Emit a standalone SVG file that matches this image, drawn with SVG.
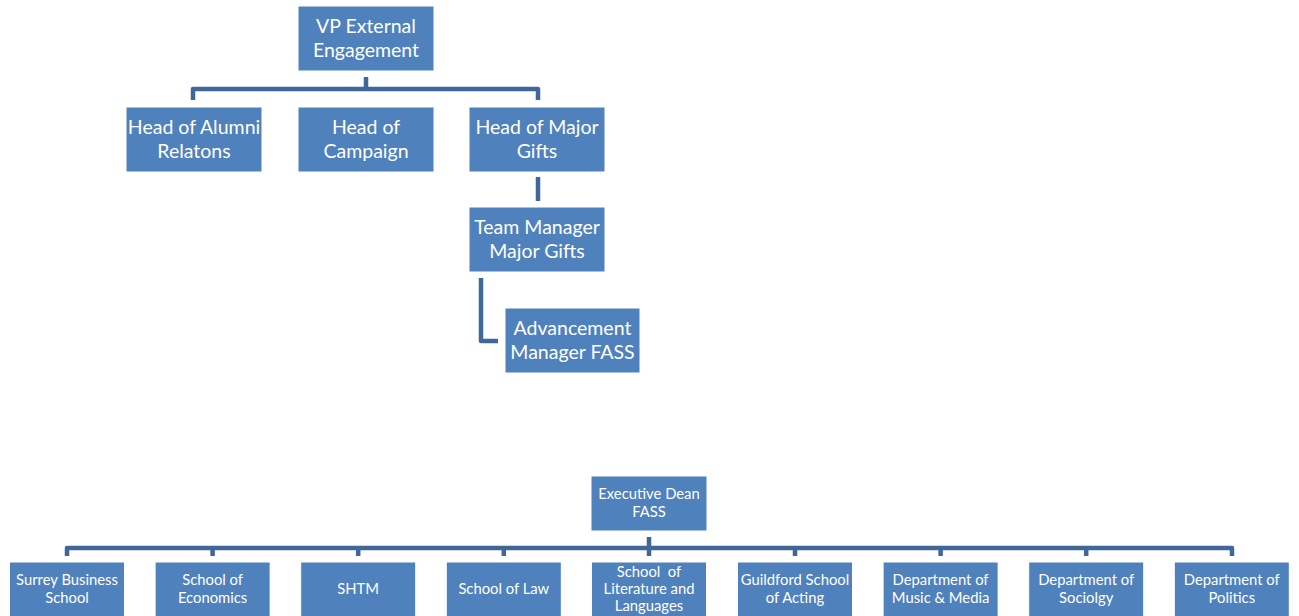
<svg xmlns="http://www.w3.org/2000/svg" width="1299" height="616" viewBox="0 0 1299 616">
<style>
.box{fill:#4F81BD;stroke:#ffffff;stroke-width:1}
.t{fill:#ffffff;font-family:Lato,"Liberation Sans",sans-serif;font-size:19.5px;text-anchor:middle}
.s{fill:#ffffff;font-family:Lato,"Liberation Sans",sans-serif;font-size:14.8px;text-anchor:middle;white-space:pre}
.c{fill:none;stroke:#3F6899;stroke-width:4.5;stroke-linejoin:round}
</style>
<rect width="1299" height="616" fill="#ffffff"/>
<g id="connectors">
<path class="c" d="M366 77V89M193 100V89H538V100"/>
<path class="c" d="M538 177V201"/>
<path class="c" d="M481 278V341H498"/>
<path class="c" d="M649 537V548M67 556V548H1232V556M212.6 548V556M358.2 548V556M503.8 548V556M649 548V556M795 548V556M940.6 548V556M1086.2 548V556"/>
</g>
<g id="vp"><rect class="box" x="298" y="6" width="136" height="65"/><text class="t" x="366" y="33">VP External</text><text class="t" x="366" y="57">Engagement</text></g>
<g id="alumni"><rect class="box" x="126" y="107" width="136" height="65"/><text class="t" x="194" y="134">Head of Alumni</text><text class="t" x="194" y="158">Relatons</text></g>
<g id="campaign"><rect class="box" x="298" y="107" width="136" height="65"/><text class="t" x="366" y="134">Head of</text><text class="t" x="366" y="158">Campaign</text></g>
<g id="majorgifts"><rect class="box" x="469" y="107" width="136" height="65"/><text class="t" x="537" y="134">Head of Major</text><text class="t" x="537" y="158">Gifts</text></g>
<g id="teammanager"><rect class="box" x="469" y="207" width="136" height="65"/><text class="t" x="537" y="234">Team Manager</text><text class="t" x="537" y="258">Major Gifts</text></g>
<g id="advancement"><rect class="box" x="505" y="308" width="135" height="65"/><text class="t" x="572.5" y="335">Advancement</text><text class="t" x="572.5" y="359">Manager FASS</text></g>
<g id="execdean"><rect class="box" x="591" y="476" width="116" height="55"/><text class="s" x="649" y="499">Executive Dean</text><text class="s" x="649" y="517">FASS</text></g>
<g id="surrey"><rect class="box" x="9.5" y="562" width="115" height="56"/><text class="s" x="67" y="585">Surrey Business</text><text class="s" x="67" y="603">School</text></g>
<g id="economics"><rect class="box" x="155.1" y="562" width="115" height="56"/><text class="s" x="212.6" y="585">School of</text><text class="s" x="212.6" y="603">Economics</text></g>
<g id="shtm"><rect class="box" x="300.7" y="562" width="115" height="56"/><text class="s" x="358.2" y="594">SHTM</text></g>
<g id="law"><rect class="box" x="446.3" y="562" width="115" height="56"/><text class="s" x="503.8" y="594">School of Law</text></g>
<g id="literature"><rect class="box" x="591.5" y="562" width="115" height="56"/><text class="s" x="649" y="577">School  of</text><text class="s" x="649" y="594">Literature and</text><text class="s" x="649" y="611">Languages</text></g>
<g id="guildford"><rect class="box" x="737.5" y="562" width="115" height="56"/><text class="s" x="795" y="585">Guildford School</text><text class="s" x="795" y="603">of Acting</text></g>
<g id="music"><rect class="box" x="883.1" y="562" width="115" height="56"/><text class="s" x="940.6" y="585">Department of</text><text class="s" x="940.6" y="603">Music &amp; Media</text></g>
<g id="sociology"><rect class="box" x="1028.7" y="562" width="115" height="56"/><text class="s" x="1086.2" y="585">Department of</text><text class="s" x="1086.2" y="603">Sociolgy</text></g>
<g id="politics"><rect class="box" x="1174.3" y="562" width="115" height="56"/><text class="s" x="1231.8" y="585">Department of</text><text class="s" x="1231.8" y="603">Politics</text></g>
</svg>
